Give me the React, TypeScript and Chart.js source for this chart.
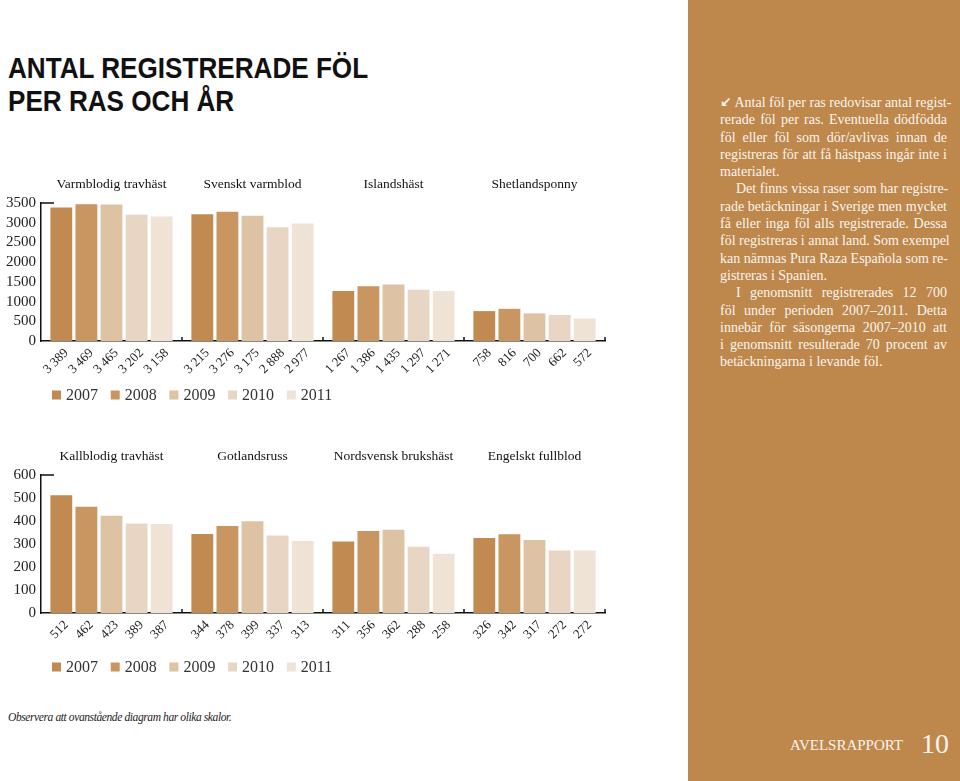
import React, { useEffect, useRef } from "react";
import { Chart, registerables } from "chart.js";

Chart.register(...registerables);

// ---------- data ----------
const YEARS = ["2007", "2008", "2009", "2010", "2011"];
const YEAR_COLORS = ["#C18A50", "#C99561", "#DEC2A4", "#E8D5C3", "#EFE3D6"];

const TOP_BREEDS = ["Varmblodig travhäst", "Svenskt varmblod", "Islandshäst", "Shetlandsponny"];
const TOP_2007 = [3389, 3215, 1267, 758];
const TOP_2008 = [3469, 3276, 1386, 816];
const TOP_2009 = [3465, 3175, 1435, 700];
const TOP_2010 = [3202, 2888, 1297, 662];
const TOP_2011 = [3158, 2977, 1271, 572];
const TOP_Y_MAX = 3500;
const TOP_Y_STEP = 500;

const BOTTOM_BREEDS = ["Kallblodig travhäst", "Gotlandsruss", "Nordsvensk brukshäst", "Engelskt fullblod"];
const BOTTOM_2007 = [512, 344, 311, 326];
const BOTTOM_2008 = [462, 378, 356, 342];
const BOTTOM_2009 = [423, 399, 362, 317];
const BOTTOM_2010 = [389, 337, 288, 272];
const BOTTOM_2011 = [387, 313, 258, 272];
const BOTTOM_Y_MAX = 600;
const BOTTOM_Y_STEP = 100;

const SERIF = '"Liberation Serif", "DejaVu Serif", serif';

function fmt(v: number): string {
  if (v >= 1000) return `${Math.floor(v / 1000)} ${String(v % 1000).padStart(3, "0")}`;
  return String(v);
}

// ---------- plugins ----------
const valueLabelPlugin = {
  id: "valueLabels",
  afterDatasetsDraw(chart: any) {
    const ctx = chart.ctx;
    const bottom = chart.chartArea.bottom;
    ctx.save();
    ctx.font = `13px ${SERIF}`;
    ctx.fillStyle = "#222";
    chart.data.datasets.forEach((ds: any, di: number) => {
      const meta = chart.getDatasetMeta(di);
      meta.data.forEach((el: any, i: number) => {
        ctx.save();
        ctx.translate(el.x + 5, bottom + 10);
        ctx.rotate(-Math.PI / 4);
        ctx.textAlign = "right";
        ctx.textBaseline = "middle";
        ctx.fillText(fmt(ds.data[i]), 0, 0);
        ctx.restore();
      });
    });
    ctx.restore();
  },
};

const axisDecorPlugin = {
  id: "axisDecor",
  afterDraw(chart: any) {
    const { ctx, chartArea } = chart;
    const { left, right, top, bottom } = chartArea;
    const n = chart.data.labels.length;
    ctx.save();
    ctx.strokeStyle = "#111";
    ctx.lineWidth = 1.5;
    ctx.beginPath();
    ctx.moveTo(left, top);
    ctx.lineTo(left + 13, top);
    for (let i = 1; i <= n; i++) {
      const bx = left + ((right - left) * i) / n;
      ctx.moveTo(bx, bottom);
      ctx.lineTo(bx, bottom - 4);
    }
    ctx.stroke();
    ctx.restore();
  },
};

const legendPlugin = {
  id: "customLegend",
  afterDraw(chart: any) {
    const { ctx, chartArea } = chart;
    const y = chartArea.bottom + 54;
    let x = chartArea.left + 11;
    ctx.save();
    ctx.font = `16px ${SERIF}`;
    ctx.textBaseline = "middle";
    ctx.textAlign = "left";
    chart.data.datasets.forEach((ds: any) => {
      ctx.fillStyle = ds.backgroundColor;
      ctx.fillRect(x, y - 4.5, 9, 9);
      ctx.fillStyle = "#333";
      ctx.fillText(ds.label, x + 14, y + 1);
      x += 58.7;
    });
    ctx.restore();
  },
};

// ---------- chart ----------
type BarProps = {
  breeds: string[];
  series: number[][];
  yMax: number;
  yStep: number;
  top: number;
};

const CANVAS_W = 688;
const CANVAS_H = 250;

function BarChart({ breeds, series, yMax, yStep, top }: BarProps) {
  const ref = useRef<HTMLCanvasElement | null>(null);
  useEffect(() => {
    if (!ref.current) return;
    const chart = new Chart(ref.current, {
      type: "bar",
      data: {
        labels: breeds,
        datasets: YEARS.map((y, i) => ({
          label: y,
          data: series[i],
          backgroundColor: YEAR_COLORS[i],
          borderWidth: 0,
          categoryPercentage: 0.89,
          barPercentage: 0.87,
        })),
      },
      options: {
        responsive: false,
        animation: false,
        devicePixelRatio: 1,
        layout: { padding: { left: 0, right: 83, top: 0, bottom: 34 } },
        plugins: {
          legend: { display: false },
          tooltip: { enabled: false },
          title: { display: false },
        },
        scales: {
          x: {
            type: "category",
            position: "bottom",
            grid: { display: false, drawTicks: false },
            border: { display: true, color: "#111", width: 1.5 },
            ticks: { display: false },
            afterFit(s: any) {
              s.height = 35;
            },
          },
          xTop: {
            type: "category",
            position: "top",
            labels: breeds,
            offset: true,
            grid: { display: false, drawTicks: false },
            border: { display: false },
            ticks: { font: { family: SERIF, size: 13.5 }, color: "#111", padding: 10, maxRotation: 0, autoSkip: false },
            afterFit(s: any) {
              s.height = 43;
            },
          },
          y: {
            min: 0,
            max: yMax,
            grid: { display: false, drawTicks: false },
            border: { display: true, color: "#111", width: 1.5 },
            ticks: {
              stepSize: yStep,
              autoSkip: false,
              font: { family: SERIF, size: 15 },
              color: "#222",
              padding: 5,
              callback: (v: any) => String(v),
            },
            afterFit(s: any) {
              s.width = 41;
            },
          },
        },
      },
      plugins: [valueLabelPlugin, axisDecorPlugin, legendPlugin],
    } as any);
    return () => chart.destroy();
  }, []);
  return (
    <canvas
      ref={ref}
      width={CANVAS_W}
      height={CANVAS_H}
      style={{ position: "absolute", left: 0, top, width: CANVAS_W, height: CANVAS_H }}
    />
  );
}

// ---------- page ----------
const lineStyle: React.CSSProperties = {
  height: 17.3,
  lineHeight: "17.3px",
  whiteSpace: "nowrap",
  textAlign: "justify",
  textAlignLast: "justify",
};
const lastStyle: React.CSSProperties = { ...lineStyle, textAlign: "left", textAlignLast: "left" };

const PANEL_LINES: { t: React.ReactNode; last?: boolean; indent?: boolean }[] = [
  { t: <><span style={{ fontFamily: '"DejaVu Sans"', fontSize: 14, fontWeight: 700 }}>↙</span> Antal föl per ras redovisar antal regist-</> },
  { t: "rerade föl per ras. Eventuella dödfödda" },
  { t: "föl eller föl som dör/avlivas innan de" },
  { t: "registreras för att få hästpass ingår inte i" },
  { t: "materialet.", last: true },
  { t: "Det finns vissa raser som har registre-", indent: true },
  { t: "rade betäckningar i Sverige men mycket" },
  { t: "få eller inga föl alls registrerade. Dessa" },
  { t: "föl registreras i annat land. Som exempel" },
  { t: "kan nämnas Pura Raza Española som re-" },
  { t: "gistreras i Spanien.", last: true },
  { t: "I genomsnitt registrerades 12 700", indent: true },
  { t: "föl under perioden 2007–2011. Detta" },
  { t: "innebär för säsongerna 2007–2010 att" },
  { t: "i genomsnitt resulterade 70 procent av" },
  { t: "betäckningarna i levande föl.", last: true },
];

export default function App() {
  return (
    <div
      style={{
        position: "absolute",
        left: 0,
        top: 0,
        width: 960,
        height: 781,
        overflow: "hidden",
        background: "#fff",
        fontFamily: SERIF,
      }}
    >
      <div
        style={{
          position: "absolute",
          left: 8,
          top: 51,
          fontFamily: '"Liberation Sans", Arial, sans-serif',
          fontWeight: 700,
          fontSize: 30,
          lineHeight: "33px",
          color: "#111",
          transform: "scaleX(0.87)",
          transformOrigin: "left top",
          whiteSpace: "nowrap",
        }}
      >
        ANTAL REGISTRERADE FÖL
        <br />
        PER RAS OCH ÅR
      </div>

      <BarChart
        breeds={TOP_BREEDS}
        series={[TOP_2007, TOP_2008, TOP_2009, TOP_2010, TOP_2011]}
        yMax={TOP_Y_MAX}
        yStep={TOP_Y_STEP}
        top={160}
      />
      <BarChart
        breeds={BOTTOM_BREEDS}
        series={[BOTTOM_2007, BOTTOM_2008, BOTTOM_2009, BOTTOM_2010, BOTTOM_2011]}
        yMax={BOTTOM_Y_MAX}
        yStep={BOTTOM_Y_STEP}
        top={432}
      />

      <div
        style={{
          position: "absolute",
          left: 8,
          top: 711,
          fontStyle: "italic",
          fontSize: 11.5,
          color: "#222",
          letterSpacing: -0.4,
          whiteSpace: "nowrap",
        }}
      >
        Observera att ovanstående diagram har olika skalor.
      </div>

      <div style={{ position: "absolute", left: 688, top: 0, width: 272, height: 781, background: "#BE874C" }}>
        <div style={{ position: "absolute", left: 32, top: 94, width: 227, fontSize: 14, color: "#FBF4EC" }}>
          {PANEL_LINES.map((l, i) => (
            <div key={i} style={{ ...(l.last ? lastStyle : lineStyle), paddingLeft: l.indent ? 16 : 0 }}>
              {l.t}
            </div>
          ))}
        </div>
        <div
          style={{
            position: "absolute",
            left: 102,
            top: 737,
            fontSize: 15,
            color: "#FBF4EC",
            whiteSpace: "nowrap",
          }}
        >
          AVELSRAPPORT
        </div>
        <div
          style={{
            position: "absolute",
            left: 233,
            top: 728,
            fontSize: 28,
            color: "#FBF4EC",
            whiteSpace: "nowrap",
          }}
        >
          10
        </div>
      </div>
    </div>
  );
}
